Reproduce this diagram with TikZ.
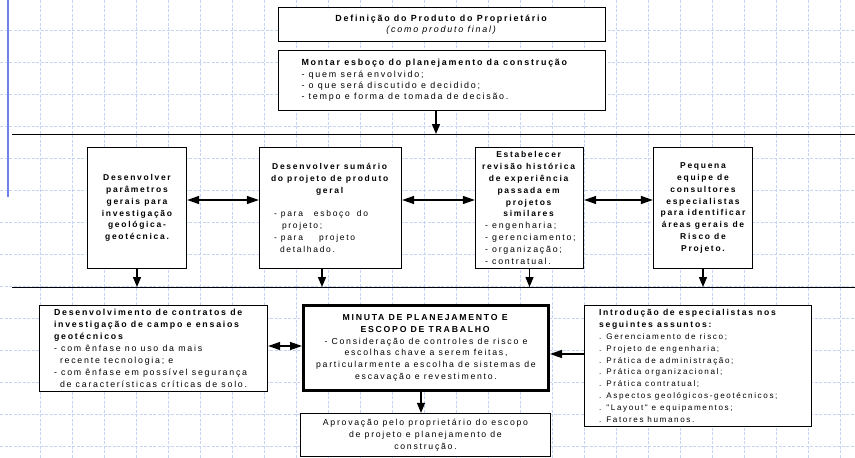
\documentclass[tikz,border=0pt]{standalone}
\usepackage{fontspec}
\setmainfont{Liberation Sans}
\newfontfamily\df[LetterSpace=20]{Liberation Sans}
\usetikzlibrary{arrows.meta}
\definecolor{gridc}{RGB}{200,212,245}
\definecolor{bluel}{RGB}{110,130,232}
\begin{document}
\begin{tikzpicture}[x=1pt,y=-1pt,
  box/.style={draw, line width=1.3pt, fill=white, inner sep=0pt, anchor=center,
    font=\df\fontsize{8.5}{11.8}\selectfont},
  bbox/.style={box, font=\df\bfseries\fontsize{8.5}{11.8}\selectfont},
  gridl/.style={gridc, line width=0.9pt, dash pattern=on 3pt off 1.5pt},
  sep/.style={black, line width=0.9pt},
  arr/.style={line width=1.3pt, -{Triangle[length=10pt,width=8pt]}},
  harr/.style={line width=1.3pt, -{Triangle[length=12pt,width=8pt]}},
  darr/.style={line width=1.3pt, {Triangle[length=12pt,width=8pt]}-{Triangle[length=12pt,width=8pt]}}
]
\useasboundingbox (0,0) rectangle (855,458);
\fill[white] (0,0) rectangle (855,458);
% grid paper
\foreach \x in {40,72,...,840} \draw[gridl] (\x,0) -- (\x,458);
\foreach \y in {30,62,...,446} \draw[gridl] (0,\y) -- (855,\y);
\draw[bluel, line width=2pt] (7.5,0) -- (7.5,197);

% separators
\coordinate (l1a) at (12,134);
\coordinate (l1b) at (855,134);
\coordinate (l2a) at (12,287);
\coordinate (l2b) at (855,287);
\draw[sep] (l1a) -- (l1b);
\draw[sep] (l2a) -- (l2b);

% top
\node[box, font=\df\fontsize{8.9}{11}\selectfont, minimum width=327, minimum height=34, align=center] (b1) at (442,24.5)
  {\textbf{Definição do Produto do Proprietário}\\\textit{(como produto final)}};
\node[box, font=\df\fontsize{8.9}{11.4}\selectfont, minimum width=327, minimum height=60] (b2) at (442,80.5)
  {\parbox{281pt}{\raggedright\textbf{Montar esboço do planejamento da construção}\\- quem será envolvido;\\- o que será discutido e decidido;\\- tempo e forma de tomada de decisão.}};

% row 2
\node[bbox, minimum width=99, minimum height=121, align=center] (A) at (137,208)
  {Desenvolver\\parâmetros\\gerais para\\investigação\\geológica-\\geotécnica.};
\node[box, minimum width=142, minimum height=121, align=center] (B) at (330.5,208)
  {\textbf{Desenvolver sumário}\\\textbf{do projeto de produto}\\\textbf{geral}\\[11.8pt]\hspace*{-13pt}\parbox[t]{100pt}{\raggedright - para\hspace{11pt}esboço\hspace{7pt}do\\\hspace*{8pt}projeto;\\- para\hspace{16pt}projeto\\\hspace*{6pt}detalhado.}};
\node[box, minimum width=108, minimum height=121, align=center] (C) at (529.5,208)
  {\textbf{Estabelecer}\\\textbf{revisão histórica}\\\textbf{de experiência}\\\textbf{passada em}\\\textbf{projetos}\\\textbf{similares}\\\hspace*{7pt}\parbox[t]{96pt}{\fontsize{8.8}{11.8}\selectfont\raggedright - engenharia;\\- gerenciamento;\\- organização;\\- contratual.}};
\node[bbox, minimum width=99, minimum height=121, align=center] (D) at (703,208)
  {Pequena\\equipe de\\consultores\\especialistas\\para identificar\\áreas gerais de\\Risco de\\Projeto.};

% row 3
\node[box, font=\df\fontsize{8.8}{11.9}\selectfont, minimum width=228, minimum height=86] (E) at (153.5,348.5)
  {\parbox{199pt}{\raggedright\textbf{Desenvolvimento de contratos de}\\\textbf{investigação de campo e ensaios}\\\textbf{geotécnicos}\\- com ênfase no uso da mais\\\hspace*{6pt}recente tecnologia; e\\- com ênfase em possível segurança\\\hspace*{6pt}de características críticas de solo.}};
\node[box, font=\df\fontsize{8.7}{11.7}\selectfont, line width=3pt, minimum width=245, minimum height=85, align=center] (F) at (426,348)
  {\textbf{MINUTA DE PLANEJAMENTO E}\\\textbf{ESCOPO DE TRABALHO}\\- Consideração de controles de risco e\\escolhas chave a serem feitas,\\particularmente a escolha de sistemas de\\escavação e revestimento.};
\node[box, font=\df\fontsize{8.1}{11.8}\selectfont, minimum width=227, minimum height=121] (G) at (698,366)
  {\parbox{198pt}{\raggedright{\fontsize{8.6}{11.8}\selectfont\bfseries Introdução de especialistas nos\\seguintes assuntos:}\\. Gerenciamento de risco;\\. Projeto de engenharia;\\. Prática de administração;\\. Prática organizacional;\\. Prática contratual;\\. Aspectos geológicos-geotécnicos;\\. "Layout" e equipamentos;\\. Fatores humanos.}};
\node[box, font=\df\fontsize{8.7}{12}\selectfont, minimum width=250, minimum height=43, align=center] (H) at (425.5,435)
  {Aprovação pelo proprietário do escopo\\de projeto e planejamento de\\construção.};

% connectors
\draw[arr] ([xshift=-6pt]b2.south) -- ([xshift=-6pt]b2.south |- l1a);
\coordinate (r2) at (0,200);
\draw[darr] (A.east |- r2) -- (B.west |- r2);
\draw[darr] (B.east |- r2) -- (C.west |- r2);
\draw[darr] (C.east |- r2) -- (D.west |- r2);
\draw[arr] (A.south) -- (A.south |- l2a);
\draw[arr] ([xshift=-8.5pt]B.south) -- ([xshift=-8.5pt]B.south |- l2a);
\draw[arr] (C.south) -- (C.south |- l2a);
\draw[arr] (D.south) -- (D.south |- l2a);
\coordinate (r3a) at (0,346);
\coordinate (r3b) at (0,354);
\draw[darr] (E.east |- r3a) -- (F.west |- r3a);
\draw[harr] (G.west |- r3b) -- (F.east |- r3b);
\draw[arr] ([xshift=-5pt]F.south) -- ([xshift=-5pt]F.south |- H.north);
\end{tikzpicture}
\end{document}
